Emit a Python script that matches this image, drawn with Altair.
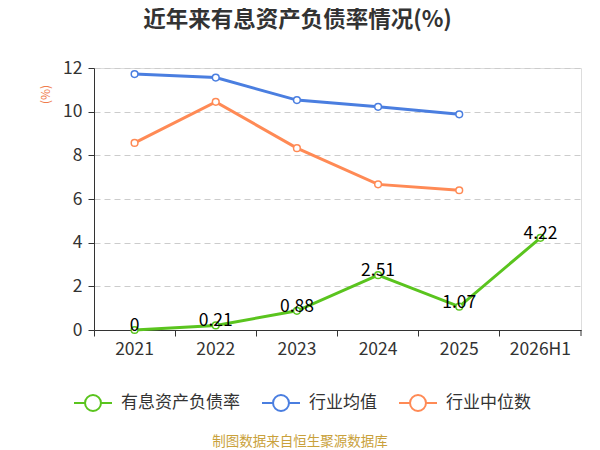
import altair as alt
import pandas as pd

years = ["2021", "2022", "2023", "2024", "2025", "2026H1"]
series_names = ["有息资产负债率", "行业均值", "行业中位数"]
colors = ["#5ac41e", "#4a7ee0", "#ff8a55"]

rate_years = ["2021", "2022", "2023", "2024", "2025", "2026H1"]
rate_vals = [0, 0.21, 0.88, 2.51, 1.07, 4.22]
avg_years = ["2021", "2022", "2023", "2024", "2025"]
avg_vals = [11.72, 11.56, 10.53, 10.22, 9.88]
med_years = ["2021", "2022", "2023", "2024", "2025"]
med_vals = [8.57, 10.45, 8.33, 6.67, 6.40]

rows = []
for y, v in zip(rate_years, rate_vals):
    rows.append({"year": y, "value": v, "series": series_names[0]})
for y, v in zip(avg_years, avg_vals):
    rows.append({"year": y, "value": v, "series": series_names[1]})
for y, v in zip(med_years, med_vals):
    rows.append({"year": y, "value": v, "series": series_names[2]})
df = pd.DataFrame(rows)

FONT = "Noto Sans CJK SC"

legend_path = ("M-1,0L-0.42,0M0.42,0L1,0"
               "M-0.42,0A0.42,0.42 0 1,1 0.42,0A0.42,0.42 0 1,1 -0.42,0Z")

x_scale = alt.Scale(type="band", domain=years, paddingInner=0, paddingOuter=0)

x_enc = alt.X(
    "year:N", sort=years, title=None, scale=x_scale,
    axis=alt.Axis(labelAngle=0, labelFontSize=17.5, labelColor="#333333", labelFont=FONT,
                  domainColor="#333333", tickColor="#333333", tickSize=6,
                  bandPosition=0, labelPadding=4, grid=False),
)
y_enc = alt.Y(
    "value:Q", title="(%)",
    scale=alt.Scale(domain=[0, 12], nice=False),
    axis=alt.Axis(values=[0, 2, 4, 6, 8, 10, 12], labelFontSize=17.5, labelColor="#333333",
                  labelFont=FONT, domainColor="#333333", tickColor="#333333", tickSize=6,
                  labelPadding=6, grid=True, gridColor="#cccccc", gridDash=[6, 4],
                  titleColor="#f07c4c", titleFontSize=12, titleFontWeight="normal",
                  titleFont=FONT, titleX=-49, titleY=26, titleAlign="center",
                  titleBaseline="middle"),
)
color_enc = alt.Color(
    "series:N", sort=series_names,
    scale=alt.Scale(domain=series_names, range=colors),
    legend=alt.Legend(title=None, orient="none", direction="horizontal",
                      legendX=-21, legendY=315, symbolType=legend_path,
                      symbolSize=1444, symbolStrokeWidth=2, symbolFillColor="white",
                      labelFontSize=17, labelColor="#333333", labelFont=FONT,
                      labelOffset=8, columnPadding=18),
)

base = alt.Chart(df).encode(x=x_enc, y=y_enc, color=color_enc)

lines = base.mark_line(strokeWidth=3)
points = base.mark_point(filled=False, fill="white", fillOpacity=1, size=45,
                         strokeWidth=1.5, opacity=1)
labels = alt.Chart(df).transform_filter(
    alt.datum.series == series_names[0]
).mark_text(fontSize=17.5, color="#000000", font=FONT, dy=-4, baseline="middle").encode(
    x=alt.X("year:N", sort=years, scale=x_scale),
    y=alt.Y("value:Q"),
    text=alt.Text("value:Q"),
)

source = alt.Chart(pd.DataFrame({"t": ["制图数据来自恒生聚源数据库"]})).mark_text(
    fontSize=13.5, color="#c9a13b", font=FONT, align="center", baseline="middle"
).encode(text="t:N", x=alt.value(206), y=alt.value(374))

right_tick = alt.Chart(pd.DataFrame({"t": [0]})).mark_rule(color="#333333").encode(
    x=alt.value(487), y=alt.value(262), y2=alt.value(268)
)

chart = alt.layer(lines, points, labels, source, right_tick).properties(
    width=487, height=262,
    padding={"left": 86, "top": 60, "right": 11, "bottom": 124},
    autosize=alt.AutoSizeParams(type="none"),
    title=alt.TitleParams("近年来有息资产负债率情况(%)", fontSize=22.5, fontWeight="bold",
                          color="#333333", font=FONT, anchor="middle", frame="group",
                          dx=-40, offset=28),
).configure_view(stroke=None).configure(background="white")

chart.save("out.html", embed_options={"renderer": "svg", "actions": False})
